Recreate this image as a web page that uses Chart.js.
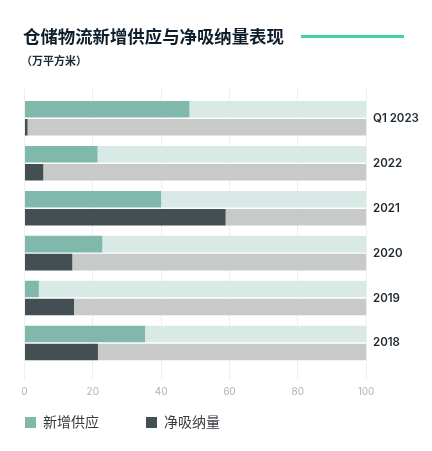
<!DOCTYPE html>
<html>
<head>
<meta charset="utf-8">
<script src="https://cdn.jsdelivr.net/npm/chart.js@4"></script>
<style>
  html, body { margin: 0; padding: 0; background: #fff; }
  body { width: 432px; height: 451px; position: relative; overflow: hidden;
         font-family: "Noto Sans CJK SC", "Noto Sans", sans-serif; }
  #wrap { position: absolute; left: 0; top: 0; width: 432px; height: 451px; }
  .title { position: absolute; left: 23px; top: 24px; font-size: 17.4px; font-weight: 700;
           color: #0f1e2c; line-height: 24px; white-space: nowrap; }
  .rule { position: absolute; left: 301px; top: 35px; width: 103px; height: 3px; background: #45d39c; }
  .sub { position: absolute; left: 21px; top: 52px; font-size: 11px; font-weight: 700;
         color: #1d2a36; line-height: 16px; }
  .legend { position: absolute; top: 412px; font-size: 14px; color: #373c41; line-height: 18px; }
  .legend i { display: inline-block; width: 11px; height: 11px; vertical-align: -1px; margin-right: 7px; }
</style>
</head>
<body>
<div id="wrap"><canvas id="warehouseChart"></canvas></div>
<div class="title">仓储物流新增供应与净吸纳量表现</div>
<div class="rule"></div>
<div class="sub">（万平方米）</div>
<div class="legend" style="left:25px"><i style="background:#80b9ab"></i>新增供应</div>
<div class="legend" style="left:146px"><i style="background:#434f53"></i>净吸纳量</div>
<script>
const periods = ["Q1 2023", "2022", "2021", "2020", "2019", "2018"];
const newSupply = [48.3, 21.4, 40.0, 22.8, 4.2, 35.3];
const netAbsorption = [0.9, 5.5, 58.9, 14.0, 14.5, 21.5];
const trackMax = [100, 100, 100, 100, 100, 100];
const xTicks = [0, 20, 40, 60, 80, 100];

const ctx = document.getElementById("warehouseChart").getContext("2d");
new Chart(ctx, {
  type: "bar",
  data: {
    labels: periods,
    datasets: [
      { label: "新增供应", data: newSupply, stack: "s", order: 1, backgroundColor: "#80b9ab" },
      { label: "净吸纳量", data: netAbsorption, stack: "a", order: 1, backgroundColor: "#434f53" },
      { label: "track-s", data: trackMax, stack: "s", order: 2, backgroundColor: "#d9e9e5" },
      { label: "track-a", data: trackMax, stack: "a", order: 2, backgroundColor: "#c8c9c9" },
    ],
  },
  options: {
    indexAxis: "y",
    responsive: true,
    maintainAspectRatio: false,
    animation: false,
    datasets: { bar: { categoryPercentage: 0.8, barPercentage: 0.92 } },
    layout: { padding: { left: 24.5, right: 0, top: 86.8, bottom: 0 } },
    plugins: { legend: { display: false }, tooltip: { enabled: false }, title: { display: false } },
    scales: {
      x: {
        min: 0, max: 100,
        afterBuildTicks: (s) => { s.ticks = xTicks.map((v) => ({ value: v })); },
        afterFit: (s) => { s.height = 451 - 365.5; },
        grid: { color: "#efefef", tickLength: 14, drawTicks: true },
        border: { display: false },
        ticks: { color: "#b3b3b3", padding: 6, font: { family: "Inter", size: 10 } },
      },
      x2: {
        type: "linear", position: "top", min: 0, max: 100,
        afterBuildTicks: (s) => { s.ticks = xTicks.map((v) => ({ value: v })); },
        afterFit: (s) => { s.height = 9; },
        grid: { color: "#efefef", tickLength: 9, drawOnChartArea: false },
        border: { display: false },
        ticks: { display: false },
      },
      y: {
        position: "right",
        afterFit: (s) => { s.width = 66; },
        grid: { display: false, drawTicks: false },
        border: { display: false },
        ticks: { color: "#1e2830", padding: 7, font: { family: "Inter", size: 11.5, weight: "600" } },
      },
    },
  },
});
</script>
</body>
</html>
